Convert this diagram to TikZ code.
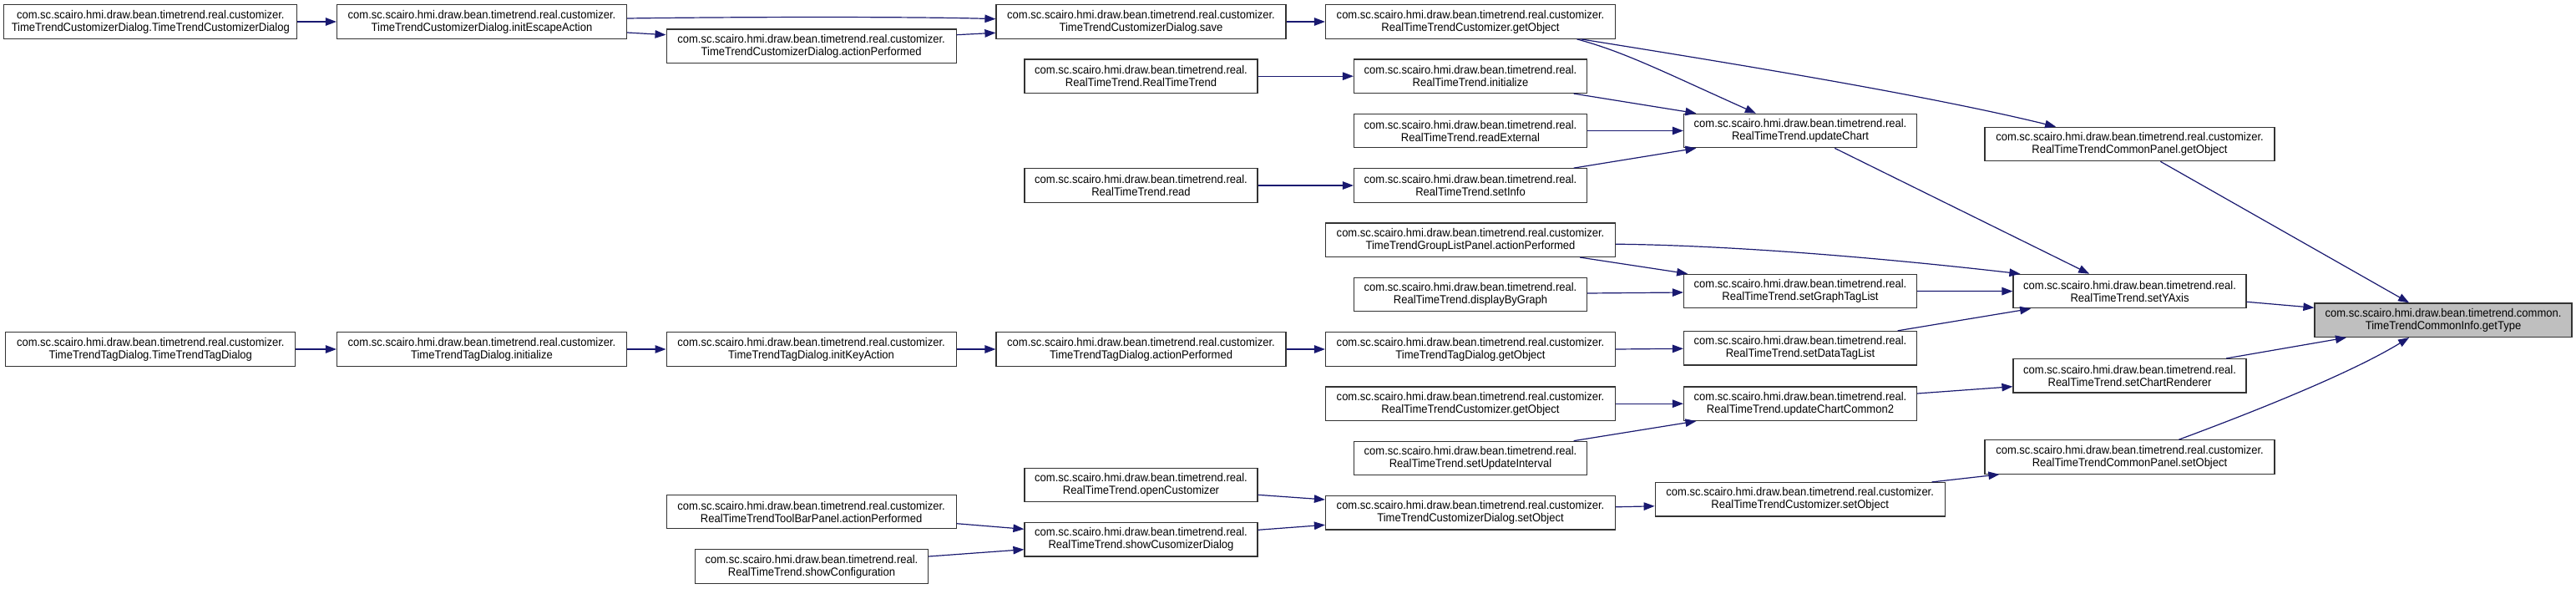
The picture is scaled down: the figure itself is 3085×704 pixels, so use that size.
\documentclass[tikz,border=0pt]{standalone}
\usepackage{fontspec}
\setmainfont{Liberation Sans}
\newfontfamily\nodefont[FakeStretch=0.93]{Liberation Sans}
\usetikzlibrary{arrows.meta,calc}
\definecolor{midnight}{HTML}{191970}
\definecolor{focusgray}{HTML}{BFBFBF}
\newcommand\pkgcust{com.sc.scairo.hmi.draw.bean.timetrend.real.customizer.}
\newcommand\pkgreal{com.sc.scairo.hmi.draw.bean.timetrend.real.}
\begin{document}
\begin{tikzpicture}[x=1pt,y=-1pt,
  fnbox/.style={draw=black!80, line width=1.2pt, fill=white, inner sep=0pt,
    minimum height=40.5pt, align=center, font=\nodefont\fontsize{14}{15}\selectfont},
  wbox/.style={fnbox, minimum width=347pt},
  nbox/.style={fnbox, minimum width=279pt},
  callarrow/.style={draw=midnight, line width=1.2pt, -{Triangle[length=13pt,width=9.5pt]}},
]
\fill[white] (0,0) rectangle (3085,704);
\useasboundingbox (0,0) rectangle (3085,704);

% column A
\node[wbox, minimum width=351pt] (A1) at (180.3,26) {\pkgcust\\TimeTrendCustomizerDialog.TimeTrendCustomizerDialog};
\node[wbox] (A2) at (180.3,418) {\pkgcust\\TimeTrendTagDialog.TimeTrendTagDialog};
% column B
\node[wbox] (B1) at (577,26) {\pkgcust\\TimeTrendCustomizerDialog.initEscapeAction};
\node[wbox] (B2) at (577,418) {\pkgcust\\TimeTrendTagDialog.initialize};
% column C
\node[wbox] (C1) at (971.6,55.2) {\pkgcust\\TimeTrendCustomizerDialog.actionPerformed};
\node[wbox] (C2) at (971.6,418) {\pkgcust\\TimeTrendTagDialog.initKeyAction};
\node[wbox] (C3) at (971.6,612.5) {\pkgcust\\RealTimeTrendToolBarPanel.actionPerformed};
\node[nbox] (C4) at (972,678) {\pkgreal\\RealTimeTrend.showConfiguration};
% column D
\node[wbox] (D1) at (1366.5,26) {\pkgcust\\TimeTrendCustomizerDialog.save};
\node[nbox] (D2) at (1366.5,91.2) {\pkgreal\\RealTimeTrend.RealTimeTrend};
\node[nbox] (D3) at (1366.5,222) {\pkgreal\\RealTimeTrend.read};
\node[wbox] (D4) at (1366.5,418) {\pkgcust\\TimeTrendTagDialog.actionPerformed};
\node[nbox] (D5) at (1366.5,580.5) {\pkgreal\\RealTimeTrend.openCustomizer};
\node[nbox] (D6) at (1366.5,645.8) {\pkgreal\\RealTimeTrend.showCusomizerDialog};
% column E
\node[wbox] (E1) at (1761,26) {\pkgcust\\RealTimeTrendCustomizer.getObject};
\node[nbox] (E2) at (1761,91.2) {\pkgreal\\RealTimeTrend.initialize};
\node[nbox] (E3) at (1761,156.5) {\pkgreal\\RealTimeTrend.readExternal};
\node[nbox] (E4) at (1761,222) {\pkgreal\\RealTimeTrend.setInfo};
\node[wbox] (E5) at (1761,287.2) {\pkgcust\\TimeTrendGroupListPanel.actionPerformed};
\node[nbox] (E6) at (1761,352.4) {\pkgreal\\RealTimeTrend.displayByGraph};
\node[wbox] (E7) at (1761,418) {\pkgcust\\TimeTrendTagDialog.getObject};
\node[wbox] (E8) at (1761,483.2) {\pkgcust\\RealTimeTrendCustomizer.getObject};
\node[nbox] (E9) at (1761,548.5) {\pkgreal\\RealTimeTrend.setUpdateInterval};
\node[wbox] (E10) at (1761,613.8) {\pkgcust\\TimeTrendCustomizerDialog.setObject};
% column F
\node[nbox] (F1) at (2156,156.5) {\pkgreal\\RealTimeTrend.updateChart};
\node[nbox] (F2) at (2156,348.5) {\pkgreal\\RealTimeTrend.setGraphTagList};
\node[nbox] (F3) at (2156,416.7) {\pkgreal\\RealTimeTrend.setDataTagList};
\node[nbox] (F4) at (2156,483.2) {\pkgreal\\RealTimeTrend.updateChartCommon2};
\node[wbox] (F5) at (2155.7,597.8) {\pkgcust\\RealTimeTrendCustomizer.setObject};
% column G
\node[wbox] (G1) at (2550.5,172.5) {\pkgcust\\RealTimeTrendCommonPanel.getObject};
\node[nbox] (G2) at (2550.5,348.6) {\pkgreal\\RealTimeTrend.setYAxis};
\node[nbox] (G3) at (2550.5,449.8) {\pkgreal\\RealTimeTrend.setChartRenderer};
\node[wbox] (G4) at (2550.5,547) {\pkgcust\\RealTimeTrendCommonPanel.setObject};
% target
\node[fnbox, fill=focusgray, minimum width=308pt] (H) at (2926,383.2) {com.sc.scairo.hmi.draw.bean.timetrend.common.\\TimeTrendCommonInfo.getType};

% edges
\draw[callarrow] (A1.east) -- (B1.west);
\draw[callarrow] ($(B1.east)+(0,-4)$) .. controls (900,20) and (1100,20) .. ($(D1.west)+(0,-3.3)$);
\draw[callarrow] ($(B1.east)+(0,13)$) -- ($(C1.west)+(0,-13.5)$);
\draw[callarrow] ($(C1.east)+(0,-13.5)$) -- ($(D1.west)+(0,13.3)$);
\draw[callarrow] (D1.east) -- (E1.west);
\draw[callarrow] (D2.east) -- (E2.west);
\draw[callarrow] (D3.east) -- (E4.west);
\draw[callarrow] ($(E1.south west)+(301.5,0)$) .. controls (1945,62) and (1990,85) .. ($(F1.north west)+(87,0)$);
\draw[callarrow] ($(E1.south west)+(306.5,0)$) .. controls (2050,72) and (2300,112) .. ($(G1.north west)+(85.7,0)$);
\draw[callarrow] ($(E2.south east)+(-16.5,0)$) -- ($(F1.north west)+(15.5,0)$);
\draw[callarrow] (E3.east) -- (F1.west);
\draw[callarrow] ($(E4.north east)+(-16.5,0)$) -- ($(F1.south west)+(15.5,0)$);
\draw[callarrow] ($(F1.south west)+(181.3,0)$) -- ($(G2.north west)+(91.8,0)$);
\draw[callarrow] ($(E5.east)+(0,5)$) .. controls (2100,294) and (2300,314) .. ($(G2.north west)+(9,0)$);
\draw[callarrow] ($(E5.south east)+(-43,0)$) -- ($(F2.north west)+(5.2,0)$);
\draw[callarrow] ($(E6.east)+(0,-1.4)$) -- ($(F2.west)+(0,1.5)$);
\draw[callarrow] (F2.east) -- (G2.west);
\draw[callarrow] ($(G2.east)+(0,12.7)$) -- ($(H.west)+(0,-14.9)$);
\draw[callarrow] ($(G1.south west)+(211,0)$) -- ($(H.north west)+(113.7,0)$);
\draw[callarrow] (A2.east) -- (B2.west);
\draw[callarrow] (B2.east) -- (C2.west);
\draw[callarrow] (C2.east) -- (D4.west);
\draw[callarrow] (D4.east) -- (E7.west);
\draw[callarrow] (E7.east) -- ($(F3.west)+(0,0.6)$);
\draw[callarrow] ($(F3.north east)+(-23.5,0)$) -- ($(G2.south west)+(21.7,0)$);
\draw[callarrow] (E8.east) -- (F4.west);
\draw[callarrow] ($(E9.north east)+(-16.5,0)$) -- ($(F4.south west)+(15.5,0)$);
\draw[callarrow] ($(F4.east)+(0,-12.2)$) -- ($(G3.west)+(0,12.9)$);
\draw[callarrow] ($(G3.north east)+(-24.5,0)$) -- ($(H.south west)+(38.6,0)$);
\draw[callarrow] ($(F5.north east)+(-16.3,0)$) -- ($(G4.south west)+(18,0)$);
\draw[callarrow] ($(G4.north west)+(233,0)$) .. controls (2680,500) and (2810,450) .. ($(H.south west)+(113.7,0)$);
\draw[callarrow] ($(E10.east)+(0,-7)$) -- ($(F5.west)+(0,8)$);
\draw[callarrow] ($(D5.east)+(0,11.8)$) -- ($(E10.west)+(0,-15.8)$);
\draw[callarrow] ($(D6.east)+(0,-11.5)$) -- ($(E10.west)+(0,14.5)$);
\draw[callarrow] ($(C3.east)+(0,14.2)$) -- ($(D6.west)+(0,-12.5)$);
\draw[callarrow] ($(C4.east)+(0,-12)$) -- ($(D6.west)+(0,11.9)$);
\end{tikzpicture}
\end{document}
